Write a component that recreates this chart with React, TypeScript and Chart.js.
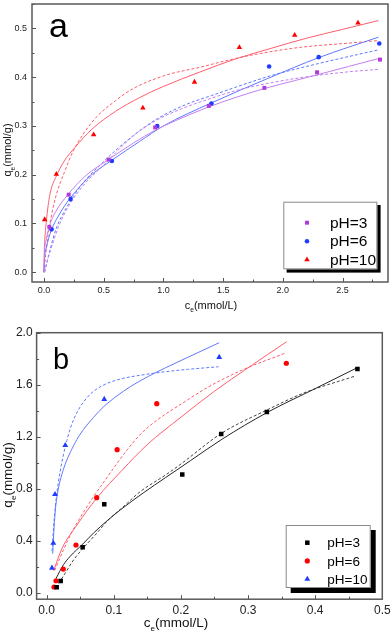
import React, { useEffect, useRef } from 'react';
import { Chart, registerables } from 'chart.js';
Chart.register(...registerables);

const FONT = '"Liberation Sans", Arial, sans-serif';

// ---------- Panel a ----------
const aXTicks = [0, 0.5, 1.0, 1.5, 2.0, 2.5];
const aYTicks = [0, 0.1, 0.2, 0.3, 0.4, 0.5];

const a3x = [0.045, 0.207, 0.541, 0.931, 1.38, 1.845, 2.286, 2.813];
const a3y = [0.093, 0.159, 0.231, 0.297, 0.341, 0.378, 0.41, 0.436];
const a6x = [0.064, 0.223, 0.569, 0.948, 1.402, 1.885, 2.3, 2.807];
const a6y = [0.088, 0.15, 0.228, 0.3, 0.346, 0.422, 0.441, 0.469];
const a10x = [0.006, 0.104, 0.416, 0.828, 1.26, 1.636, 2.099, 2.629];
const a10y = [0.108, 0.201, 0.282, 0.337, 0.39, 0.461, 0.486, 0.511];

const a3Fx = [0, 0.005, 0.02, 0.045, 0.1, 0.2, 0.35, 0.54, 0.75, 0.93, 1.15, 1.38, 1.6, 1.85, 2.1, 2.29, 2.55, 2.8];
const a3Fy = [0, 0.04, 0.068, 0.094, 0.125, 0.159, 0.198, 0.231, 0.265, 0.291, 0.316, 0.339, 0.358, 0.377, 0.393, 0.405, 0.422, 0.438];
const a3Lx = [0.005, 0.03, 0.064, 0.12, 0.2, 0.34, 0.51, 0.6, 0.75, 0.93, 1.15, 1.38, 1.6, 1.85, 2.1, 2.3, 2.55, 2.8];
const a3Ly = [0, 0.025, 0.052, 0.092, 0.133, 0.181, 0.222, 0.245, 0.28, 0.31, 0.335, 0.355, 0.372, 0.386, 0.397, 0.404, 0.411, 0.416];

const a6Fx = [0, 0.005, 0.02, 0.06, 0.12, 0.22, 0.4, 0.57, 0.8, 1.0, 1.4, 1.9, 2.3, 2.8];
const a6Fy = [0, 0.028, 0.05, 0.085, 0.115, 0.152, 0.2, 0.23, 0.268, 0.3, 0.347, 0.4, 0.44, 0.482];
const a6Lx = [0.005, 0.05, 0.1, 0.19, 0.32, 0.48, 0.6, 0.8, 0.95, 1.2, 1.4, 1.9, 2.3, 2.8];
const a6Ly = [0, 0.045, 0.088, 0.133, 0.181, 0.222, 0.25, 0.29, 0.315, 0.345, 0.362, 0.403, 0.428, 0.456];

const a10Fx = [0, 0.003, 0.008, 0.02, 0.05, 0.1, 0.17, 0.26, 0.4, 0.6, 0.8, 1.0, 1.3, 1.6, 1.9, 2.2, 2.5, 2.8];
const a10Fy = [0, 0.045, 0.07, 0.105, 0.16, 0.195, 0.228, 0.256, 0.293, 0.33, 0.358, 0.381, 0.41, 0.437, 0.459, 0.48, 0.498, 0.516];
const a10Lx = [0, 0.014, 0.037, 0.07, 0.106, 0.176, 0.246, 0.41, 0.6, 0.75, 1.02, 1.3, 1.58, 1.8, 2.14, 2.56, 2.8];
const a10Ly = [0, 0.035, 0.08, 0.125, 0.161, 0.208, 0.249, 0.31, 0.352, 0.377, 0.404, 0.42, 0.437, 0.448, 0.461, 0.47, 0.475];

// ---------- Panel b ----------
const bXTicks = [0, 0.1, 0.2, 0.3, 0.4, 0.5];
const bYTicks = [0, 0.4, 0.8, 1.2, 1.6, 2.0];

const b3x = [0.0149, 0.0209, 0.0536, 0.0858, 0.202, 0.26, 0.328, 0.463];
const b3y = [0.042, 0.09, 0.349, 0.68, 0.91, 1.221, 1.39, 1.721];
const b6x = [0.0109, 0.0139, 0.0248, 0.0437, 0.0745, 0.105, 0.164, 0.357];
const b6y = [0.044, 0.092, 0.182, 0.367, 0.731, 1.1, 1.454, 1.765];
const b10x = [0.0079, 0.0099, 0.0124, 0.0277, 0.0858, 0.257];
const b10y = [0.19, 0.382, 0.757, 1.134, 1.488, 1.811];

const b3Fx = [0.014, 0.025, 0.035, 0.054, 0.07, 0.09, 0.11, 0.144, 0.177, 0.214, 0.261, 0.328, 0.4, 0.464];
const b3Fy = [0.11, 0.215, 0.28, 0.375, 0.46, 0.553, 0.638, 0.768, 0.885, 1.015, 1.18, 1.385, 1.57, 1.734];
const b3Lx = [0.018, 0.03, 0.04, 0.054, 0.075, 0.09, 0.115, 0.14, 0.177, 0.2, 0.261, 0.328, 0.382, 0.46];
const b3Ly = [0.072, 0.17, 0.252, 0.34, 0.46, 0.55, 0.665, 0.78, 0.905, 0.99, 1.228, 1.405, 1.534, 1.667];

const b6Fx = [0.0104, 0.0228, 0.045, 0.075, 0.112, 0.15, 0.2, 0.25, 0.3, 0.3576];
const b6Fy = [0.17, 0.34, 0.52, 0.73, 0.94, 1.14, 1.35, 1.55, 1.73, 1.931];
const b6Lx = [0.012, 0.025, 0.04, 0.055, 0.07, 0.085, 0.1, 0.12, 0.14, 0.165, 0.2, 0.24, 0.29, 0.355];
const b6Ly = [0.17, 0.33, 0.49, 0.62, 0.74, 0.85, 0.96, 1.1, 1.22, 1.33, 1.45, 1.58, 1.71, 1.842];

const b10Fx = [0.009, 0.011, 0.013, 0.016, 0.02, 0.025, 0.03, 0.04, 0.05, 0.07, 0.085, 0.105, 0.1246, 0.15, 0.177, 0.21, 0.257];
const b10Fy = [0.3, 0.5, 0.64, 0.76, 0.86, 0.95, 1.02, 1.13, 1.22, 1.35, 1.431, 1.515, 1.585, 1.66, 1.73, 1.81, 1.923];
const b10Lx = [0.008, 0.011, 0.015, 0.02, 0.025, 0.03, 0.035, 0.04, 0.05, 0.06, 0.07, 0.09, 0.115, 0.14, 0.177, 0.21, 0.256];
const b10Ly = [0.32, 0.55, 0.76, 0.93, 1.06, 1.17, 1.26, 1.33, 1.43, 1.5, 1.55, 1.61, 1.65, 1.673, 1.7, 1.718, 1.738];

const labels = ['pH=3', 'pH=6', 'pH=10'];

const pts = (xs: number[], ys: number[]) => xs.map((x, i) => ({ x, y: ys[i] }));

function fitLine(xs: number[], ys: number[], color: string, dashed: boolean) {
  return {
    data: pts(xs, ys),
    showLine: true,
    pointRadius: 0,
    borderColor: color,
    borderWidth: 1,
    borderDash: dashed ? [3, 2] : [],
    cubicInterpolationMode: 'monotone',
    fill: false,
    order: 1,
    isPoints: false,
  };
}

function pointSet(label: string, xs: number[], ys: number[], color: string, style: string, r: number) {
  return {
    label,
    data: pts(xs, ys),
    showLine: false,
    pointStyle: style,
    pointRadius: r,
    backgroundColor: color,
    borderColor: color,
    borderWidth: 0,
    order: 0,
    isPoints: true,
  };
}

function drawMarker(ctx: CanvasRenderingContext2D, style: string, color: string, x: number, y: number, r: number) {
  ctx.fillStyle = color;
  ctx.beginPath();
  if (style === 'rect') {
    const s = Math.SQRT1_2 * r;
    ctx.rect(x - s, y - s, 2 * s, 2 * s);
  } else if (style === 'triangle') {
    ctx.moveTo(x, y - r);
    ctx.lineTo(x + r * 0.866, y + r * 0.5);
    ctx.lineTo(x - r * 0.866, y + r * 0.5);
    ctx.closePath();
  } else {
    ctx.arc(x, y, r, 0, Math.PI * 2);
  }
  ctx.fill();
}

function subText(ctx: CanvasRenderingContext2D, main: string, sub: string, rest: string, size: number) {
  ctx.font = `${size}px ${FONT}`;
  const w1 = ctx.measureText(main).width;
  const w3 = ctx.measureText(rest).width;
  ctx.font = `${size * 0.6}px ${FONT}`;
  const w2 = ctx.measureText(sub).width;
  let x = -(w1 + w2 + w3) / 2;
  const base = size * 0.35;
  ctx.textAlign = 'left';
  ctx.textBaseline = 'alphabetic';
  ctx.fillStyle = '#111';
  ctx.font = `${size}px ${FONT}`;
  ctx.fillText(main, x, base);
  x += w1;
  ctx.font = `${size * 0.6}px ${FONT}`;
  ctx.fillText(sub, x, base + size * 0.3);
  x += w2;
  ctx.font = `${size}px ${FONT}`;
  ctx.fillText(rest, x, base);
}

const decoPlugin = {
  id: 'deco',
  afterDraw(chart: any) {
    const o = chart.options.plugins.deco;
    if (!o) return;
    const ctx: CanvasRenderingContext2D = chart.ctx;
    const { left, right, top, bottom } = chart.chartArea;
    const xs = chart.scales.x;
    const ys = chart.scales.y;
    ctx.save();
    // inward ticks
    ctx.strokeStyle = '#555';
    ctx.lineWidth = 1;
    const xt: number[] = o.xTicks;
    const yt: number[] = o.yTicks;
    const xStep = xt[1] - xt[0];
    const yStep = yt[1] - yt[0];
    ctx.beginPath();
    for (let v = xt[0] - xStep / 2; v <= xs.max + 1e-9; v += xStep / 2) {
      if (v < xs.min) continue;
      const major = Math.abs(Math.round((v - xt[0]) / xStep) * xStep - (v - xt[0])) < 1e-6;
      const px = Math.round(xs.getPixelForValue(v)) + 0.5;
      const len = major ? 4 : 2.5;
      ctx.moveTo(px, bottom);
      ctx.lineTo(px, bottom - len);
    }
    for (let v = yt[0] - yStep / 2; v <= ys.max + 1e-9; v += yStep / 2) {
      if (v < ys.min) continue;
      const major = Math.abs(Math.round((v - yt[0]) / yStep) * yStep - (v - yt[0])) < 1e-6;
      const py = Math.round(ys.getPixelForValue(v)) + 0.5;
      const len = major ? 4 : 2.5;
      ctx.moveTo(left, py);
      ctx.lineTo(left + len, py);
    }
    ctx.stroke();
    // frame
    ctx.strokeStyle = '#5a5a5a';
    ctx.lineWidth = 1.5;
    ctx.strokeRect(left, top, right - left, bottom - top);

    // panel letter
    ctx.fillStyle = '#000';
    ctx.font = `${o.letter.size}px ${FONT}`;
    ctx.textAlign = 'left';
    ctx.textBaseline = 'alphabetic';
    ctx.fillText(o.letter.text, o.letter.x, o.letter.y);

    // axis titles
    ctx.save();
    ctx.translate(o.xTitle.cx, o.xTitle.cy);
    subText(ctx, 'c', 'e', '(mmol/L)', o.xTitle.size);
    ctx.restore();
    ctx.save();
    ctx.translate(o.yTitle.cx, o.yTitle.cy);
    ctx.rotate(-Math.PI / 2);
    subText(ctx, 'q', 'e', '(mmol/g)', o.yTitle.size);
    ctx.restore();

    // legend
    const L = o.legend;
    ctx.fillStyle = '#000';
    ctx.fillRect(L.x + L.shadow, L.y + L.shadow, L.w, L.h);
    ctx.fillStyle = '#fff';
    ctx.fillRect(L.x, L.y, L.w, L.h);
    ctx.strokeStyle = '#8a8a8a';
    ctx.lineWidth = 1;
    ctx.strokeRect(L.x + 0.5, L.y + 0.5, L.w - 1, L.h - 1);
    const items = chart.data.datasets.filter((d: any) => d.isPoints);
    items.forEach((d: any, i: number) => {
      const cy = L.y + L.rowTop + i * L.rowGap;
      drawMarker(ctx, d.pointStyle, d.backgroundColor, L.markerX, cy, d.pointRadius);
      ctx.fillStyle = '#000';
      ctx.font = `${L.size}px ${FONT}`;
      ctx.textAlign = 'left';
      ctx.textBaseline = 'middle';
      ctx.fillText(d.label, L.textX, cy + 1);
    });
    ctx.restore();
  },
};

function makeScales(cfg: any) {
  const tickCb = (v: any) => Number(v).toFixed(1);
  return {
    x: {
      type: 'linear',
      min: cfg.xMin,
      max: cfg.xMax,
      grid: { display: false, drawTicks: false },
      border: { display: false },
      afterBuildTicks: (s: any) => {
        s.ticks = cfg.xTicks.map((v: number) => ({ value: v }));
      },
      afterFit: (s: any) => {
        s.height = cfg.xHeight;
        s.paddingLeft = 0;
        s.paddingRight = 0;
      },
      ticks: {
        callback: tickCb,
        font: { size: cfg.tickSize, family: FONT },
        color: '#222',
        padding: cfg.xPad,
        maxRotation: 0,
        autoSkip: false,
      },
    },
    y: {
      type: 'linear',
      min: cfg.yMin,
      max: cfg.yMax,
      grid: { display: false, drawTicks: false },
      border: { display: false },
      afterBuildTicks: (s: any) => {
        s.ticks = cfg.yTicks.map((v: number) => ({ value: v }));
      },
      afterFit: (s: any) => {
        s.width = cfg.yWidth;
        s.paddingTop = 0;
        s.paddingBottom = 0;
      },
      ticks: {
        callback: tickCb,
        font: { size: cfg.tickSize, family: FONT },
        color: '#222',
        padding: cfg.yPad,
        autoSkip: false,
      },
    },
  };
}

function ChartCanvas({ config, width, height, top }: any) {
  const ref = useRef<HTMLCanvasElement>(null);
  useEffect(() => {
    if (!ref.current) return;
    const chart = new Chart(ref.current, config);
    return () => chart.destroy();
  }, []);
  return (
    <canvas
      ref={ref}
      width={width}
      height={height}
      style={{ position: 'absolute', left: 0, top, width, height, display: 'block' }}
    />
  );
}

const PURPLE = '#b23ad8';
const PURPLE_L = '#c27ff0';
const BLUE = '#1f3cff';
const BLUE_L = '#5f78ff';
const RED = '#ff0000';
const RED_L = '#ff5d6d';

const configA: any = {
  type: 'scatter',
  data: {
    datasets: [
      pointSet(labels[0], a3x, a3y, PURPLE, 'rect', 2.8),
      pointSet(labels[1], a6x, a6y, BLUE, 'circle', 2.3),
      pointSet(labels[2], a10x, a10y, RED, 'triangle', 3.2),
      fitLine(a3Fx, a3Fy, PURPLE_L, false),
      fitLine(a3Lx, a3Ly, PURPLE_L, true),
      fitLine(a6Fx, a6Fy, BLUE_L, false),
      fitLine(a6Lx, a6Ly, BLUE_L, true),
      fitLine(a10Fx, a10Fy, RED_L, false),
      fitLine(a10Lx, a10Ly, RED_L, true),
    ],
  },
  options: {
    responsive: false,
    animation: false,
    layout: { padding: { top: 1.5, right: 3, left: 0, bottom: 0 } },
    scales: makeScales({
      xMin: -0.1, xMax: 2.88, yMin: -0.02, yMax: 0.55,
      xTicks: aXTicks, yTicks: aYTicks,
      xHeight: 36, yWidth: 32, tickSize: 9, xPad: 3, yPad: 5,
    }),
    plugins: {
      legend: { display: false },
      tooltip: { enabled: false },
      deco: {
        xTicks: aXTicks, yTicks: aYTicks,
        letter: { text: 'a', x: 49, y: 37, size: 34 },
        xTitle: { cx: 211, cy: 305, size: 11 },
        yTitle: { cx: 7.5, cy: 150, size: 11 },
        legend: { x: 283.3, y: 201.7, w: 94, h: 67.6, shadow: 3.3, markerX: 307, textX: 330, rowTop: 21, rowGap: 18.5, size: 15.5 },
      },
    },
  },
  plugins: [decoPlugin],
};

const configB: any = {
  type: 'scatter',
  data: {
    datasets: [
      pointSet(labels[0], b3x, b3y, '#000000', 'rect', 3.2),
      pointSet(labels[1], b6x, b6y, '#ff0000', 'circle', 2.6),
      pointSet(labels[2], b10x, b10y, '#1f3cff', 'triangle', 3.4),
      fitLine(b3Fx, b3Fy, '#262626', false),
      fitLine(b3Lx, b3Ly, '#444444', true),
      fitLine(b6Fx, b6Fy, RED_L, false),
      fitLine(b6Lx, b6Ly, RED_L, true),
      fitLine(b10Fx, b10Fy, BLUE_L, false),
      fitLine(b10Lx, b10Ly, BLUE_L, true),
    ],
  },
  options: {
    responsive: false,
    animation: false,
    layout: { padding: { top: 14.7, right: 9.7, left: 0, bottom: 0 } },
    scales: makeScales({
      xMin: -0.015, xMax: 0.5, yMin: -0.05, yMax: 2.0,
      xTicks: bXTicks, yTicks: bYTicks,
      xHeight: 38.8, yWidth: 36.6, tickSize: 12, xPad: 4, yPad: 4,
    }),
    plugins: {
      legend: { display: false },
      tooltip: { enabled: false },
      deco: {
        xTicks: bXTicks, yTicks: bYTicks,
        letter: { text: 'b', x: 53, y: 51, size: 29 },
        xTitle: { cx: 176, cy: 304, size: 13.5 },
        yTitle: { cx: 7.5, cy: 157, size: 13.5 },
        legend: { x: 285.7, y: 207, w: 85, h: 63, shadow: 5, markerX: 307.3, textX: 327.3, rowTop: 17.7, rowGap: 18.2, size: 13.5 },
      },
    },
  },
  plugins: [decoPlugin],
};

export default function App() {
  return (
    <div style={{ position: 'fixed', left: 0, top: 0, width: 392, height: 638, background: '#fff', overflow: 'hidden' }}>
      <ChartCanvas config={configA} width={392} height={318} top={0} />
      <ChartCanvas config={configB} width={392} height={320} top={318} />
    </div>
  );
}
